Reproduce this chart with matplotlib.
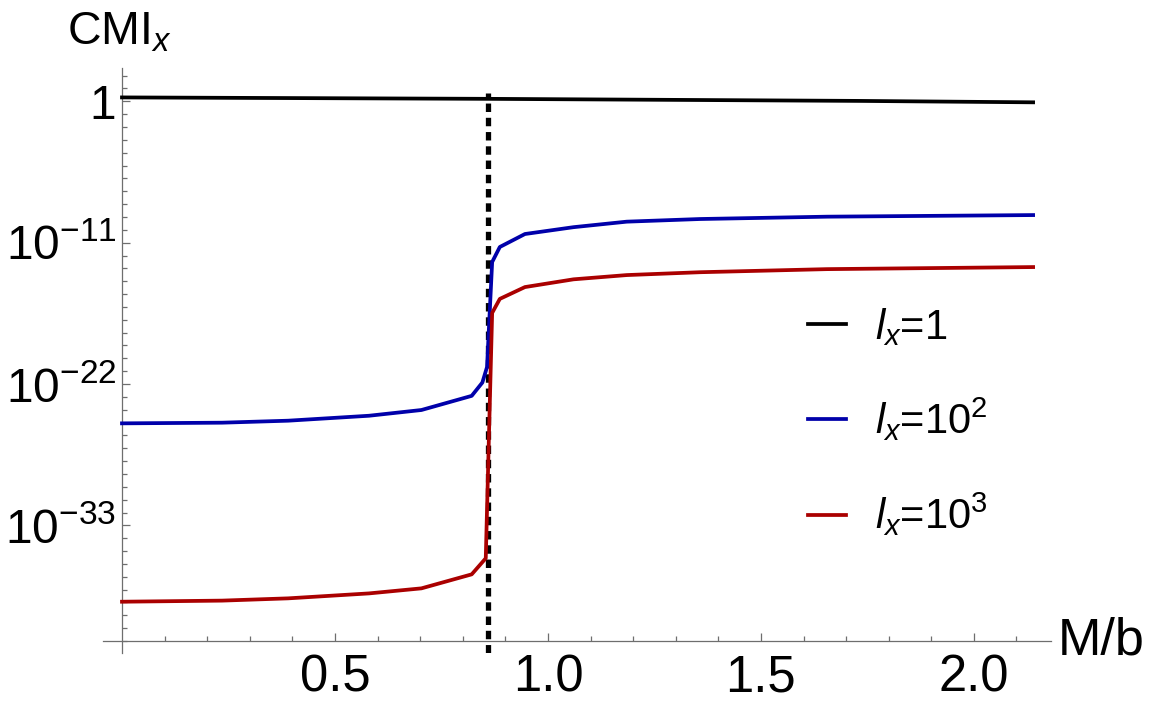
import numpy as np
import matplotlib
matplotlib.use("Agg")
import matplotlib.pyplot as plt
from matplotlib.ticker import FixedLocator, FuncFormatter, NullFormatter

plt.rcParams['font.family'] = ['Liberation Sans', 'DejaVu Sans']
plt.rcParams['mathtext.fontset'] = 'custom'
plt.rcParams['mathtext.rm'] = 'Liberation Sans'
plt.rcParams['mathtext.it'] = 'Liberation Sans:italic'
plt.rcParams['mathtext.default'] = 'it'

# --- data (M/b, CMI_x) ---
x_lx1 = [0.0, 0.86, 1.73, 2.139]
cmi_lx1 = [2.0, 1.55, 1.07, 0.83]

x_lx100 = [0.0, 0.235, 0.39, 0.58, 0.703, 0.821, 0.846, 0.857, 0.869, 0.887,
           0.946, 1.06, 1.185, 1.357, 1.655, 2.139]
cmi_lx100 = [8.7e-26, 9.8e-26, 1.4e-25, 3.4e-25, 9.5e-25, 1.2e-23, 1.3e-22,
             2.1e-21, 3.1e-13, 4.6e-12, 4.7e-11, 1.6e-10, 4.3e-10, 6.9e-10,
             1.05e-9, 1.4e-9]

x_lx1000 = [0.0, 0.235, 0.39, 0.58, 0.703, 0.821, 0.854, 0.869, 0.887, 0.946,
            1.06, 1.185, 1.357, 1.655, 2.139]
cmi_lx1000 = [1.15e-39, 1.4e-39, 2.1e-39, 5.1e-39, 1.26e-38, 1.55e-37, 2.75e-36,
              3.4e-17, 4.2e-16, 3.5e-15, 1.4e-14, 3.0e-14, 5.0e-14, 8.7e-14,
              1.26e-13]

labels = [r'$l_x$=1', r'$l_x$=$\mathregular{10^2}$', r'$l_x$=$\mathregular{10^3}$']
colors = ['black', '#0000aa', '#aa0000']

x_critical = 0.859          # dotted vertical marker
y_major = [1.0, 1e-11, 1e-22, 1e-33]
x_major = [0.5, 1.0, 1.5, 2.0]

axis_gray = '#6e6e6e'

fig = plt.figure(figsize=(11.52, 7.06), dpi=100)
W, H = 1152, 706
ax = fig.add_axes([103 / W, (H - 653) / H, (1051 - 103) / W, (653 - 68) / H])

ax.set_yscale('log')
ax.set_xlim(-0.0446, 2.181)
ax.set_ylim(10 ** -42.93, 10 ** 2.59)

ax.vlines(x_critical, 10 ** -42.93, 10 ** 0.65, colors='black', linewidth=3.8,
          linestyles=(0, (1.6, 1.1)), zorder=1)

for xs, ys, c, lab in zip([x_lx1, x_lx100, x_lx1000],
                          [cmi_lx1, cmi_lx100, cmi_lx1000], colors, labels):
    ax.plot(xs, ys, color=c, linewidth=2.7, label=lab, zorder=3,
            solid_joinstyle='round')

# Mathematica-style crossing axes
for s in ['top', 'right']:
    ax.spines[s].set_visible(False)
ax.spines['left'].set_position(('data', 0))
ax.spines['bottom'].set_position(('data', 1e-42))
for s in ['left', 'bottom']:
    ax.spines[s].set_color(axis_gray)
    ax.spines[s].set_linewidth(0.9)

ax.xaxis.set_major_locator(FixedLocator(x_major))
ax.xaxis.set_minor_locator(FixedLocator(np.round(np.arange(0.1, 2.15, 0.1), 2)))
ax.xaxis.set_major_formatter(FuncFormatter(lambda v, p: f'{v:.1f}'))
ax.yaxis.set_major_locator(FixedLocator(y_major))
ax.yaxis.set_minor_locator(FixedLocator(10.0 ** np.arange(-42, 3)))
ax.yaxis.set_minor_formatter(NullFormatter())


def ylab(v, p):
    e = int(round(np.log10(v)))
    if e == 0:
        return '1'
    return r'$\mathregular{10^{%d}}$' % e


ax.yaxis.set_major_formatter(FuncFormatter(ylab))

ax.tick_params(axis='both', which='both', direction='in', color=axis_gray,
               width=0.9, labelcolor='black')
ax.tick_params(axis='both', which='major', length=6)
ax.tick_params(axis='both', which='minor', length=3.5)
ax.tick_params(axis='x', which='major', pad=9, labelsize=36.5)
ax.tick_params(axis='y', which='major', pad=4, labelsize=34.5)

fig.text(1058 / W, (H - 641) / H, 'M/b', fontsize=37.5, ha='left', va='center')
fig.text(67 / W, (H - 45) / H, r'CMI$_x$', fontsize=33.5, ha='left', va='baseline')

ax.legend(loc='center left', bbox_to_anchor=(808 / W, (H - 422) / H),
          bbox_transform=fig.transFigure, frameon=False, fontsize=30,
          handlelength=0.9, handletextpad=0.7, labelspacing=1.15,
          borderpad=0, borderaxespad=0)

fig.savefig('out.png', dpi=100)
